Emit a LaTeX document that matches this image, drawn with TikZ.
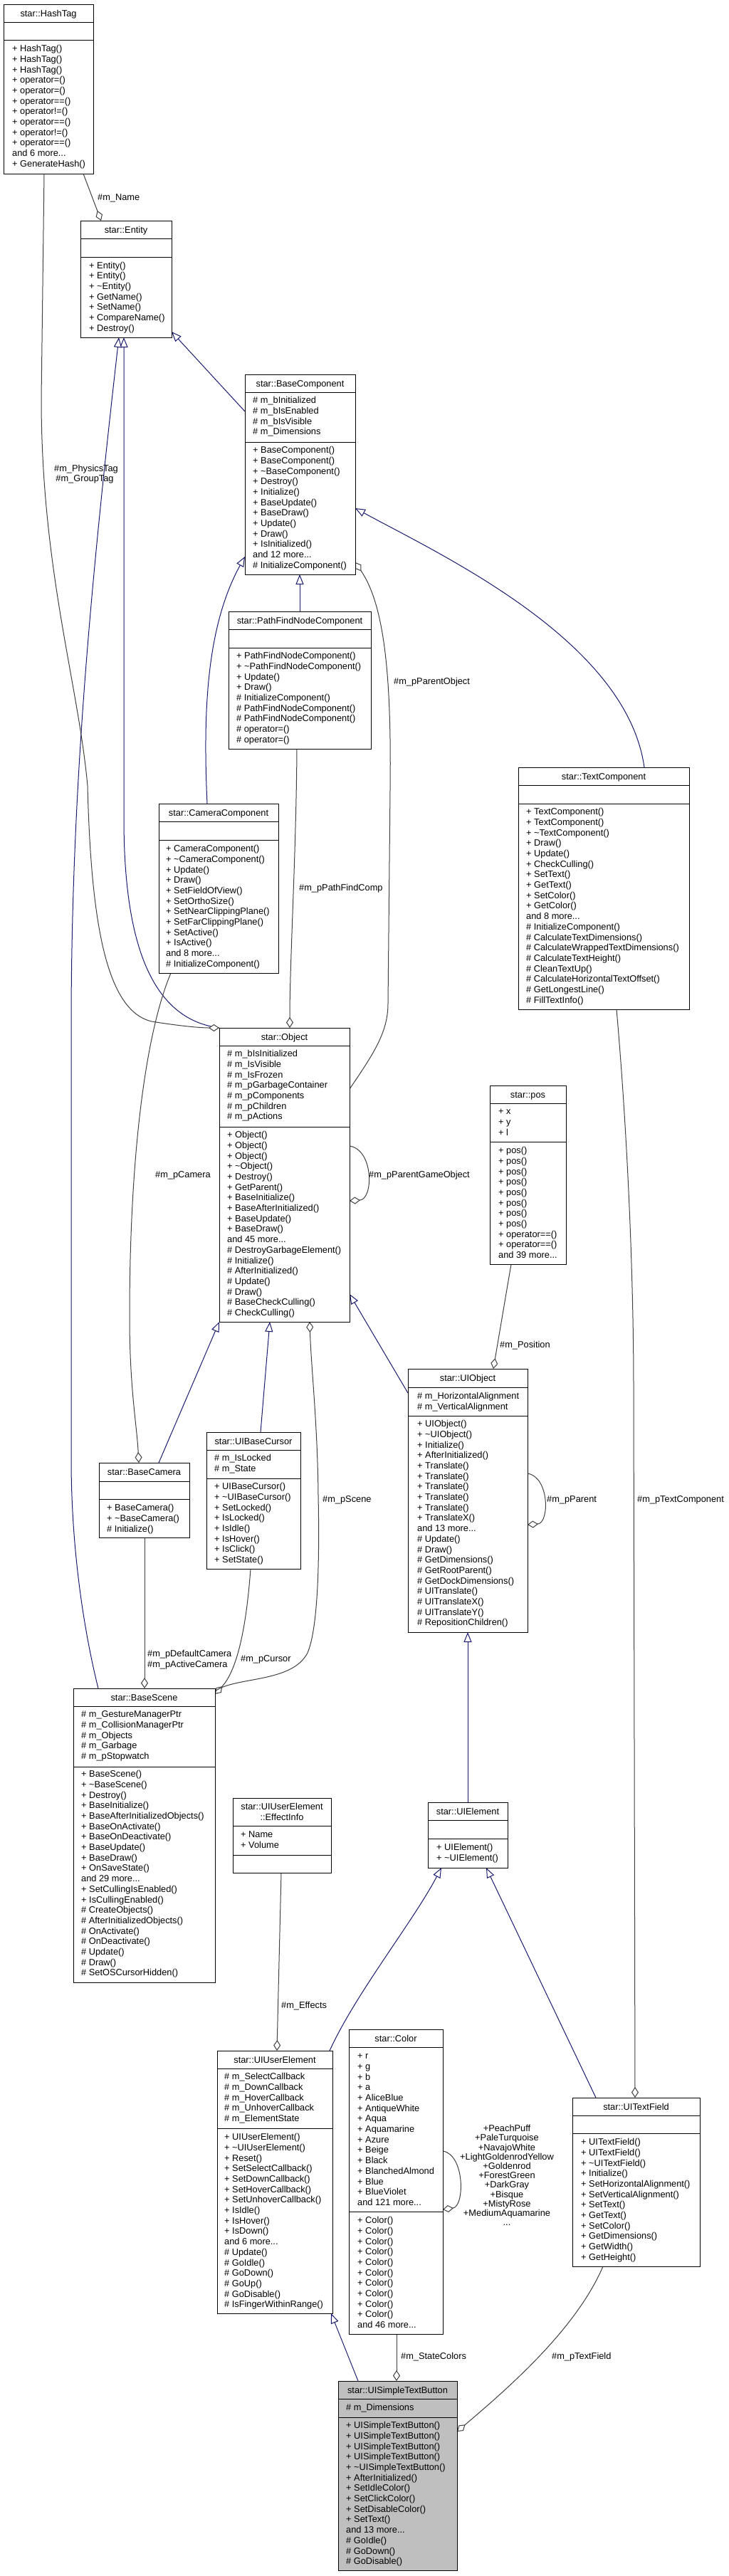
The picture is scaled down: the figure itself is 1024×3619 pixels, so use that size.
\documentclass[tikz,border=0pt]{standalone}
\usepackage{fontspec}
\setmainfont{Liberation Sans}
\usetikzlibrary{arrows.meta}
\definecolor{eb}{HTML}{191970}
\definecolor{eg}{HTML}{404040}
\definecolor{btn}{HTML}{BFBFBF}
\newcommand\fs{\fontsize{12.8}{14.7}\selectfont}
\newcommand\tld{\textasciitilde}
\newcommand\ddd{...}
\newcommand\mlist[4]{\foreach \s [count=\i] in {#4}{\node[mem] (#1-\i) at (#2,{#3+(\i-1)*14.7+4.6}) {\s};}}
\newcommand\clsbox[7][]{%
  \node[cbox,#1,minimum width={#5-#3},minimum height={#6-#4}] (#2) at (#3,#4) {};
  \node[ttl] (#2-t) at ({(#3+#5)/2},{#4+17.1}) {#7};}
\newcommand\dvs[3]{\draw[dv] (#1.west |- 0,#2) -- (#1.east |- 0,#2);\draw[dv] (#1.west |- 0,#3) -- (#1.east |- 0,#3);}
\newcommand\lab[4]{\node[lbl] (#1) at (#2,{#3+4.6}) {#4};}
\newcommand\clab[4]{\node[clbl] (#1) at (#2,{#3+4.6}) {#4};}
\begin{document}
\begin{tikzpicture}[x=1pt,y=-1pt,
  cbox/.style={draw=black,line width=1pt,fill=white,anchor=north west,inner sep=0pt,outer sep=0pt},
  dv/.style={draw=black,line width=1pt},
  mem/.style={anchor=base west,inner sep=0pt,font=\fs},
  ttl/.style={anchor=base,inner sep=0pt,font=\fs},
  lbl/.style={anchor=base west,inner sep=0pt,font=\fs},
  clbl/.style={anchor=base,inner sep=0pt,font=\fs},
  inh/.style={draw=eb,line width=1pt,-{Triangle[length=14pt,width=11pt,fill=white]}},
  agg/.style={draw=eg,line width=1pt,-{Diamond[length=15pt,width=10pt,fill=white]}}]
\useasboundingbox (0,0) rectangle (1024,3619);
\fill[white] (0,0) rectangle (1024,3619);

% ---------------- edges (drawn first) ----------------
% inheritance
\draw[inh] (344,578) -- (241,466);
\draw[inh] (308,1444) .. controls (215,1432) and (174,1330) .. (174,1150) -- (174,474);
\draw[inh] (138,2372) .. controls (125,2320) and (100,2200) .. (100,2050) -- (100,1440) .. controls (100,1100) and (130,800) .. (167,474);
\draw[inh] (421,859) -- (421,807);
\draw[inh] (291,1129) .. controls (285,1000) and (290,880) .. (344,782);
\draw[inh] (905,1078) .. controls (880,900) and (620,780) .. (499,714);
\draw[inh] (223,2055) -- (308,1857);
\draw[inh] (366,2012) -- (379,1857);
\draw[inh] (573,1957) -- (491,1818);
\draw[inh] (657,2532) -- (657,2293);
\draw[inh] (463,2881) .. controls (500,2800) and (580,2700) .. (620,2624);
\draw[inh] (837,2947) -- (683,2624);
\draw[inh] (503,3345) -- (465,3250);
% aggregation
\draw[agg] (117,244) -- (142,310);
\draw[agg] (62,244) -- (58,560) .. controls (58,800) and (110,960) .. (123,1104) .. controls (128,1300) and (150,1420) .. (213,1435) .. controls (250,1441) and (280,1444) .. (308,1444);
\draw[agg] (417,1052) .. controls (416,1200) and (407,1350) .. (407,1444);
\draw[agg] (491,1530) .. controls (525,1480) and (545,1450) .. (545,1410) -- (548,1110) .. controls (550,950) and (540,850) .. (499,790);
\draw[agg] (491,1610) .. controls (525,1615) and (525,1685) .. (491,1687);
\draw[agg] (240,1367) .. controls (205,1450) and (182,1620) .. (182,1850) .. controls (182,1950) and (192,2000) .. (195,2055);
\draw[agg] (203,2160) -- (203,2372);
\draw[agg] (352,2204) .. controls (345,2300) and (330,2350) .. (302,2380);
\draw[agg] (302,2376) .. controls (330,2355) and (410,2365) .. (432,2322) .. controls (450,2280) and (448,2150) .. (447,2100) .. controls (446,2000) and (437,1920) .. (435,1857);
\draw[agg] (718,1776) -- (693,1923);
\draw[agg] (741,2070) .. controls (772,2075) and (772,2140) .. (741,2142);
\draw[agg] (866,1418) .. controls (882,1600) and (890,1800) .. (890,1950) -- (892,2947);
\draw[agg] (395,2631) -- (389,2881);
\draw[agg] (622,3022) .. controls (653,3027) and (653,3100) .. (622,3104);
\draw[agg] (557,3279) -- (557,3345);
\draw[agg] (847,3184) .. controls (810,3270) and (720,3350) .. (642,3416);

% ---------------- classes ----------------
\clsbox{hash}{5}{6}{131}{244}{star::HashTag}
\dvs{hash}{31}{56}
\mlist{hashm}{17}{68}{+ HashTag(),+ HashTag(),+ HashTag(),+ operator=(),+ operator=(),+ operator==(),+ operator!=(),+ operator==(),+ operator!=(),+ operator==(),and 6 more\ddd,+ GenerateHash()}

\clsbox{ent}{113}{310}{241}{474}{star::Entity}
\dvs{ent}{335}{361}
\mlist{entm}{125}{372.5}{+ Entity(),+ Entity(),+ \tld Entity(),+ GetName(),+ SetName(),+ CompareName(),+ Destroy()}

\clsbox{bc}{344}{526}{499}{807}{star::BaseComponent}
\dvs{bc}{551}{621}
\mlist{bca}{355}{562}{\# m\_bInitialized,\# m\_bIsEnabled,\# m\_bIsVisible,\# m\_Dimensions}
\mlist{bcm}{355}{632}{+ BaseComponent(),+ BaseComponent(),+ \tld BaseComponent(),+ Destroy(),+ Initialize(),+ BaseUpdate(),+ BaseDraw(),+ Update(),+ Draw(),+ IsInitialized(),and 12 more\ddd,\# InitializeComponent()}

\clsbox{pf}{321}{859}{521}{1052}{star::PathFindNodeComponent}
\dvs{pf}{884}{910}
\mlist{pfm}{332}{921}{+ PathFindNodeComponent(),+ \tld PathFindNodeComponent(),+ Update(),+ Draw(),\# InitializeComponent(),\# PathFindNodeComponent(),\# PathFindNodeComponent(),\# operator=(),\# operator=()}

\clsbox{cc}{223}{1129}{391}{1367}{star::CameraComponent}
\dvs{cc}{1154}{1180}
\mlist{ccm}{233}{1192}{+ CameraComponent(),+ \tld CameraComponent(),+ Update(),+ Draw(),+ SetFieldOfView(),+ SetOrthoSize(),+ SetNearClippingPlane(),+ SetFarClippingPlane(),+ SetActive(),+ IsActive(),and 8 more\ddd,\# InitializeComponent()}

\clsbox{tc}{728}{1078}{968}{1418}{star::TextComponent}
\dvs{tc}{1103}{1129}
\mlist{tcm}{739}{1140}{+ TextComponent(),+ TextComponent(),+ \tld TextComponent(),+ Draw(),+ Update(),+ CheckCulling(),+ SetText(),+ GetText(),+ SetColor(),+ GetColor(),and 8 more\ddd,\# InitializeComponent(),\# CalculateTextDimensions(),\# CalculateWrappedTextDimensions(),\# CalculateTextHeight(),\# CleanTextUp(),\# CalculateHorizontalTextOffset(),\# GetLongestLine(),\# FillTextInfo()}

\clsbox{obj}{308}{1444}{491}{1857}{star::Object}
\dvs{obj}{1469}{1583}
\mlist{obja}{319}{1480}{\# m\_bIsInitialized,\# m\_IsVisible,\# m\_IsFrozen,\# m\_pGarbageContainer,\# m\_pComponents,\# m\_pChildren,\# m\_pActions}
\mlist{objm}{319}{1594}{+ Object(),+ Object(),+ Object(),+ \tld Object(),+ Destroy(),+ GetParent(),+ BaseInitialize(),+ BaseAfterInitialized(),+ BaseUpdate(),+ BaseDraw(),and 45 more\ddd,\# DestroyGarbageElement(),\# Initialize(),\# AfterInitialized(),\# Update(),\# Draw(),\# BaseCheckCulling(),\# CheckCulling()}

\clsbox{pos}{688}{1525}{795}{1776}{star::pos}
\dvs{pos}{1550}{1604}
\mlist{posa}{700}{1561}{+ x,+ y,+ l}
\mlist{posm}{700}{1616}{+ pos(),+ pos(),+ pos(),+ pos(),+ pos(),+ pos(),+ pos(),+ pos(),+ operator==(),+ operator==(),and 39 more\ddd}

\clsbox{uio}{573}{1923}{741}{2293}{star::UIObject}
\dvs{uio}{1949}{1989}
\mlist{uioa}{586}{1961}{\# m\_HorizontalAlignment,\# m\_VerticalAlignment}
\mlist{uiom}{586}{2000}{+ UIObject(),+ \tld UIObject(),+ Initialize(),+ AfterInitialized(),+ Translate(),+ Translate(),+ Translate(),+ Translate(),+ Translate(),+ TranslateX(),and 13 more\ddd,\# Update(),\# Draw(),\# GetDimensions(),\# GetRootParent(),\# GetDockDimensions(),\# UITranslate(),\# UITranslateX(),\# UITranslateY(),\# RepositionChildren()}

\clsbox{bcam}{139}{2055}{266}{2160}{star::BaseCamera}
\dvs{bcam}{2081}{2106}
\mlist{bcamm}{150}{2118}{+ BaseCamera(),+ \tld BaseCamera(),\# Initialize()}

\clsbox{cur}{290}{2012}{422}{2204}{star::UIBaseCursor}
\dvs{cur}{2037}{2077}
\mlist{cura}{301}{2048}{\# m\_IsLocked,\# m\_State}
\mlist{curm}{301}{2088}{+ UIBaseCursor(),+ \tld UIBaseCursor(),+ SetLocked(),+ IsLocked(),+ IsIdle(),+ IsHover(),+ IsClick(),+ SetState()}

\clsbox{bs}{103}{2372}{302}{2785}{star::BaseScene}
\dvs{bs}{2397}{2482}
\mlist{bsa}{114}{2408}{\# m\_GestureManagerPtr,\# m\_CollisionManagerPtr,\# m\_Objects,\# m\_Garbage,\# m\_pStopwatch}
\mlist{bsm}{114}{2492}{+ BaseScene(),+ \tld BaseScene(),+ Destroy(),+ BaseInitialize(),+ BaseAfterInitializedObjects(),+ BaseOnActivate(),+ BaseOnDeactivate(),+ BaseUpdate(),+ BaseDraw(),+ OnSaveState(),and 29 more\ddd,+ SetCullingIsEnabled(),+ IsCullingEnabled(),\# CreateObjects(),\# AfterInitializedObjects(),\# OnActivate(),\# OnDeactivate(),\# Update(),\# Draw(),\# SetOSCursorHidden()}

\node[cbox,minimum width=138,minimum height=105] (eff) at (327,2526) {};
\node[ttl] (eff-t1) at (396,{2538+4.6}) {star::UIUserElement};
\node[ttl] (eff-t2) at (396,{2553+4.6}) {::EffectInfo};
\dvs{eff}{2565}{2606}
\mlist{effa}{338}{2577}{+ Name,+ Volume}

\clsbox{uie}{601}{2532}{713}{2624}{star::UIElement}
\dvs{uie}{2557}{2583}
\mlist{uiem}{613}{2595}{+ UIElement(),+ \tld UIElement()}

\clsbox{uue}{305}{2881}{467}{3250}{star::UIUserElement}
\dvs{uue}{2906}{2990}
\mlist{uuea}{315}{2917}{\# m\_SelectCallback,\# m\_DownCallback,\# m\_HoverCallback,\# m\_UnhoverCallback,\# m\_ElementState}
\mlist{uuem}{315}{3002}{+ UIUserElement(),+ \tld UIUserElement(),+ Reset(),+ SetSelectCallback(),+ SetDownCallback(),+ SetHoverCallback(),+ SetUnhoverCallback(),+ IsIdle(),+ IsHover(),+ IsDown(),and 6 more\ddd,\# Update(),\# GoIdle(),\# GoDown(),\# GoUp(),\# GoDisable(),\# IsFingerWithinRange()}

\clsbox{col}{490}{2851}{622}{3279}{star::Color}
\dvs{col}{2876}{3107}
\mlist{cola}{502}{2888}{+ r,+ g,+ b,+ a,+ AliceBlue,+ AntiqueWhite,+ Aqua,+ Aquamarine,+ Azure,+ Beige,+ Black,+ BlanchedAlmond,+ Blue,+ BlueViolet,and 121 more\ddd}
\mlist{colm}{502}{3119}{+ Color(),+ Color(),+ Color(),+ Color(),+ Color(),+ Color(),+ Color(),+ Color(),+ Color(),+ Color(),and 46 more\ddd}

\clsbox{utf}{804}{2947}{983}{3184}{star::UITextField}
\dvs{utf}{2972}{2997}
\mlist{utfm}{816}{3009}{+ UITextField(),+ UITextField(),+ \tld UITextField(),+ Initialize(),+ SetHorizontalAlignment(),+ SetVerticalAlignment(),+ SetText(),+ GetText(),+ SetColor(),+ GetDimensions(),+ GetWidth(),+ GetHeight()}

\clsbox[fill=btn]{stb}{475}{3345}{642}{3611}{star::UISimpleTextButton}
\dvs{stb}{3370}{3396}
\mlist{stba}{486}{3382}{\# m\_Dimensions}
\mlist{stbm}{486}{3407}{+ UISimpleTextButton(),+ UISimpleTextButton(),+ UISimpleTextButton(),+ UISimpleTextButton(),+ \tld UISimpleTextButton(),+ AfterInitialized(),+ SetIdleColor(),+ SetClickColor(),+ SetDisableColor(),+ SetText(),and 13 more\ddd,\# GoIdle(),\# GoDown(),\# GoDisable()}

% ---------------- edge labels ----------------
\lab{l1}{137}{277}{\#m\_Name}
\clab{l2}{121}{658}{\#m\_PhysicsTag}
\clab{l3}{119}{672}{\#m\_GroupTag}
\lab{l4}{553}{957}{\#m\_pParentObject}
\lab{l5}{420}{1247}{\#m\_pPathFindComp}
\lab{l6}{518}{1650}{\#m\_pParentGameObject}
\lab{l7}{218}{1650}{\#m\_pCamera}
\lab{l8}{702}{1889}{\#m\_Position}
\lab{l9}{768}{2106}{\#m\_pParent}
\lab{l10}{895}{2106}{\#m\_pTextComponent}
\lab{l11}{453}{2106}{\#m\_pScene}
\lab{l12}{207}{2323}{\#m\_pDefaultCamera}
\lab{l13}{207}{2338}{\#m\_pActiveCamera}
\lab{l14}{338}{2330}{\#m\_pCursor}
\lab{l15}{395}{2817}{\#m\_Effects}
\lab{l16}{563}{3310}{\#m\_StateColors}
\lab{l17}{775}{3310}{\#m\_pTextField}
\foreach \s [count=\i from 0] in {+PeachPuff,+PaleTurquoise,+NavajoWhite,+LightGoldenrodYellow,+Goldenrod,+ForestGreen,+DarkGray,+Bisque,+MistyRose,+MediumAquamarine,\ddd}
  {\node[clbl] (cl-\i) at (712,{2990+\i*13.2+4.6}) {\s};}
\end{tikzpicture}
\end{document}
